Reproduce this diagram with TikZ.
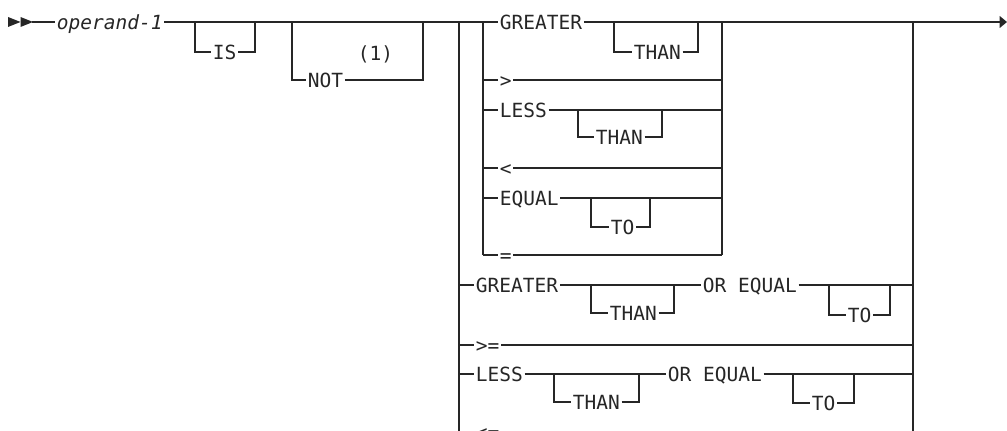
\documentclass[tikz,border=0pt]{standalone}
\usepackage{fontspec}
\setmonofont{DejaVu Sans Mono}
\definecolor{railgray}{RGB}{38,38,38}
\usetikzlibrary{arrows.meta}
\tikzset{
  rail/.style={line width=0.75pt,draw=railgray},
  kw/.style={font=\ttfamily\fontsize{11.1}{13}\selectfont,text=railgray,
             inner xsep=0.03cm,inner ysep=0pt,text height=8.1pt,text depth=0pt,anchor=west},
  var/.style={kw,font=\ttfamily\itshape\fontsize{11.1}{13}\selectfont},
  endtip/.style={-{Triangle[length=0.15cm,width=0.24cm]}},
}
\begin{document}
\begin{tikzpicture}[x=0.02cm,y=-0.02cm]
  \useasboundingbox (0,0) rectangle (1007,431);
  \clip (0,0) rectangle (1007,431);
  \fill[railgray] (8,17) -- (20.5,22) -- (8,27) -- cycle;
  \fill[railgray] (20.5,17) -- (33,22) -- (20.5,27) -- cycle;
  \coordinate (st) at (32,22);
  \coordinate (fin) at (1007,22);
  % keywords
  \node[var] (op) at (55,22) {operand-1};
  \node[kw] (is) at (211,52) {IS};
  \node[kw] (not) at (306,80) {NOT};
  \node[kw] (fn) at (356,53) {(1)};
  \node[kw] (g1) at (498,22) {GREATER};
  \node[kw] (t1) at (632,52) {THAN};
  \node[kw] (gt) at (498,80) {>};
  \node[kw] (l1) at (498,110) {LESS};
  \node[kw] (t2) at (594,137) {THAN};
  \node[kw] (lt) at (498,168) {<};
  \node[kw] (e1) at (498,198) {EQUAL};
  \node[kw] (to1) at (609,227) {TO};
  \node[kw] (eq) at (498,255) {=};
  \node[kw] (g2) at (474,285) {GREATER};
  \node[kw] (t3) at (608,313) {THAN};
  \node[kw] (oe1) at (701,285) {OR EQUAL};
  \node[kw] (to2) at (846,315) {TO};
  \node[kw] (ge) at (474,345) {>=};
  \node[kw] (l2) at (474,374) {LESS};
  \node[kw] (t4) at (571,402) {THAN};
  \node[kw] (oe2) at (666,374) {OR EQUAL};
  \node[kw] (to3) at (810,403) {TO};
  \node[kw] (le) at (474,432) {<=};
  % verticals
  \coordinate (isL) at (195,22);  \coordinate (isR) at (255,22);
  \coordinate (notL) at (292,22); \coordinate (notR) at (423,22);
  \coordinate (outL) at (459,22); \coordinate (outR) at (913,22);
  \coordinate (inL) at (483,22);  \coordinate (inR) at (722,22);
  \coordinate (t1L) at (614,22);  \coordinate (t1R) at (698,22);
  \coordinate (t2L) at (578,110); \coordinate (t2R) at (662,110);
  \coordinate (to1L) at (591,198); \coordinate (to1R) at (650,198);
  \coordinate (t3L) at (591,285); \coordinate (t3R) at (674,285);
  \coordinate (to2L) at (829,285); \coordinate (to2R) at (890,285);
  \coordinate (t4L) at (554,374); \coordinate (t4R) at (639,374);
  \coordinate (to3L) at (793,374); \coordinate (to3R) at (854,374);
  % main line
  \draw[rail] (st) -- (op.west);
  \draw[rail] (op.east) -- (g1.west);
  \draw[rail,endtip] (g1.east) -- (fin);
  % IS and NOT
  \draw[rail] (isL) |- (is.west);
  \draw[rail] (is.east) -| (isR);
  \draw[rail] (notL) |- (not.west);
  \draw[rail] (not.east) -| (notR);
  % inner group
  \draw[rail] (inL) -- (inL |- eq);
  \draw[rail] (inR) -- (inR |- eq);
  \draw[rail] (t1L) |- (t1.west);
  \draw[rail] (t1.east) -| (t1R);
  \draw[rail] (inL |- gt) -- (gt.west);
  \draw[rail] (gt.east) -- (inR |- gt);
  \draw[rail] (inL |- l1) -- (l1.west);
  \draw[rail] (l1.east) -- (inR |- l1);
  \draw[rail] (t2L) |- (t2.west);
  \draw[rail] (t2.east) -| (t2R);
  \draw[rail] (inL |- lt) -- (lt.west);
  \draw[rail] (lt.east) -- (inR |- lt);
  \draw[rail] (inL |- e1) -- (e1.west);
  \draw[rail] (e1.east) -- (inR |- e1);
  \draw[rail] (to1L) |- (to1.west);
  \draw[rail] (to1.east) -| (to1R);
  \draw[rail] (inL |- eq) -- (eq.west);
  \draw[rail] (eq.east) -- (inR |- eq);
  % outer group
  \draw[rail] (outL) -- (459,440);
  \draw[rail] (outR) -- (913,440);
  \draw[rail] (outL |- g2) -- (g2.west);
  \draw[rail] (g2.east) -- (oe1.west);
  \draw[rail] (t3L) |- (t3.west);
  \draw[rail] (t3.east) -| (t3R);
  \draw[rail] (oe1.east) -- (outR |- oe1);
  \draw[rail] (to2L) |- (to2.west);
  \draw[rail] (to2.east) -| (to2R);
  \draw[rail] (outL |- ge) -- (ge.west);
  \draw[rail] (ge.east) -- (outR |- ge);
  \draw[rail] (outL |- l2) -- (l2.west);
  \draw[rail] (l2.east) -- (oe2.west);
  \draw[rail] (t4L) |- (t4.west);
  \draw[rail] (t4.east) -| (t4R);
  \draw[rail] (oe2.east) -- (outR |- oe2);
  \draw[rail] (to3L) |- (to3.west);
  \draw[rail] (to3.east) -| (to3R);
  \draw[rail] (outL |- le) -- (le.west);
  \draw[rail] (le.east) -- (outR |- le);
\end{tikzpicture}
\end{document}
